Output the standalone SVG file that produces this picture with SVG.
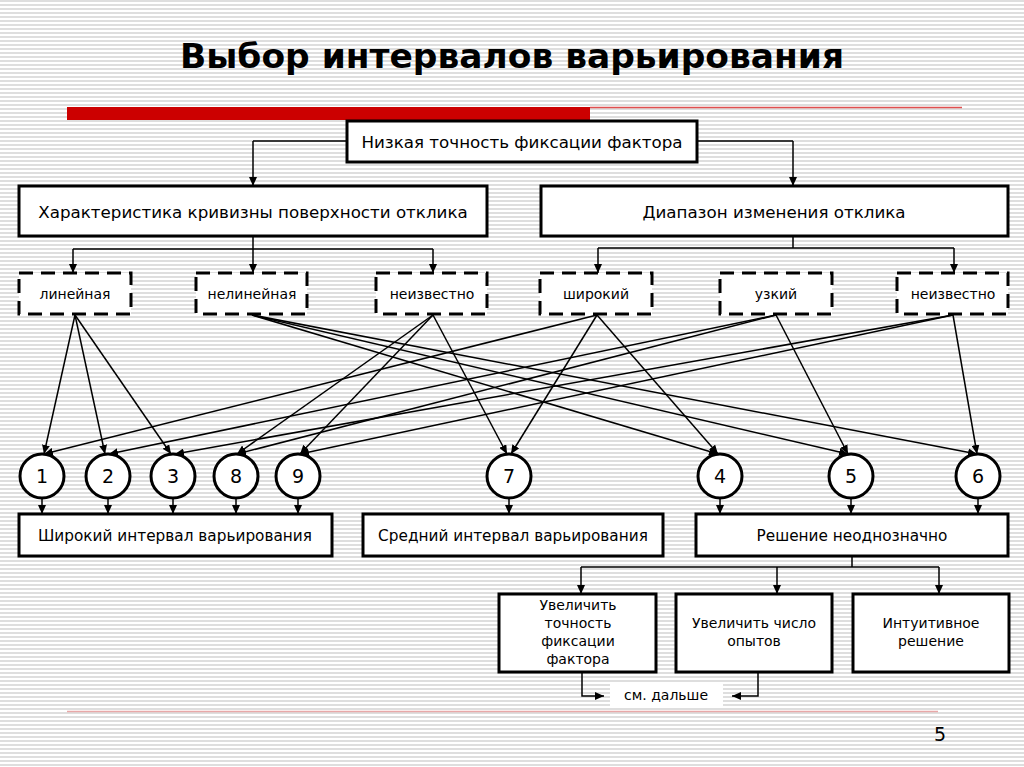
<svg xmlns="http://www.w3.org/2000/svg" width="1024" height="767" viewBox="0 0 1024 767">
<defs>
<pattern id="bg" width="8" height="4" patternUnits="userSpaceOnUse"><rect width="8" height="4" fill="#ffffff"/><rect width="8" height="2" fill="#dedede"/></pattern>
<marker id="ah" markerUnits="userSpaceOnUse" markerWidth="9" markerHeight="8" refX="9" refY="4" orient="auto"><path d="M0,0 L9,4 L0,8 z" fill="#000"/></marker>
<style>
.box{fill:#fff;stroke:#000;stroke-width:3}
.dbox{fill:#fff;stroke:#000;stroke-width:3;stroke-dasharray:14 8}
.circ{fill:#fff;stroke:#000;stroke-width:3}
.t{font-family:"DejaVu Sans","Liberation Sans",sans-serif;fill:#000;text-anchor:middle}
.big{font-size:16.7px}
.mid{font-size:15.3px}
.sm{font-size:14px}
.num{font-size:19px}
.ln{fill:none;stroke:#000;stroke-width:1.5}
.ar{fill:none;stroke:#000;stroke-width:1.5;marker-end:url(#ah)}
</style>
</defs>
<rect width="1024" height="767" fill="url(#bg)"/>
<text x="512" y="68" class="t" style="font-size:34px;font-weight:bold" textLength="664" lengthAdjust="spacingAndGlyphs">Выбор интервалов варьирования</text>
<rect x="67" y="107" width="523" height="13" fill="#cc0000"/>
<line x1="590" y1="107.5" x2="962" y2="107.5" stroke="#e05050" stroke-width="1.5"/>
<line x1="67" y1="711.5" x2="938" y2="711.5" stroke="#e8a8a8" stroke-width="1.5"/>
<text x="940" y="741" class="t" style="font-size:19px">5</text>

<g id="connectors">
<path class="ln" d="M347,141 H253"/><path class="ar" d="M253,141 V186"/>
<path class="ln" d="M697,141 H793"/><path class="ar" d="M793,141 V186"/>
<path class="ln" d="M253,236 V249 M73,249 H433"/>
<path class="ar" d="M73,249 V273"/><path class="ar" d="M253,249 V273"/><path class="ar" d="M433,249 V273"/>
<path class="ln" d="M793,236 V248 M598,248 H954"/>
<path class="ar" d="M598,248 V273"/><path class="ar" d="M954,248 V273"/>
<line class="ar" x1="75" y1="315" x2="44" y2="454"/>
<line class="ar" x1="75" y1="315" x2="105" y2="454"/>
<line class="ar" x1="75" y1="315" x2="171" y2="454"/>
<line class="ar" x1="252" y1="315" x2="718" y2="454"/>
<line class="ar" x1="252" y1="315" x2="848" y2="454"/>
<line class="ar" x1="252" y1="315" x2="977" y2="454"/>
<line class="ar" x1="433" y1="315" x2="237" y2="454"/>
<line class="ar" x1="433" y1="315" x2="300" y2="454"/>
<line class="ar" x1="433" y1="315" x2="507" y2="454"/>
<line class="ar" x1="597" y1="315" x2="44" y2="454"/>
<line class="ar" x1="597" y1="315" x2="511" y2="454"/>
<line class="ar" x1="597" y1="315" x2="718" y2="454"/>
<line class="ar" x1="776" y1="315" x2="109" y2="454"/>
<line class="ar" x1="776" y1="315" x2="237" y2="454"/>
<line class="ar" x1="776" y1="315" x2="848" y2="454"/>
<line class="ar" x1="953" y1="315" x2="175" y2="454"/>
<line class="ar" x1="953" y1="315" x2="300" y2="454"/>
<line class="ar" x1="953" y1="315" x2="977" y2="454"/>
<path class="ar" d="M42,499 V514"/><path class="ar" d="M108,499 V514"/><path class="ar" d="M173,499 V514"/>
<path class="ar" d="M236,499 V514"/><path class="ar" d="M298,499 V514"/><path class="ar" d="M509,499 V514"/>
<path class="ar" d="M720,499 V514"/><path class="ar" d="M851,499 V514"/><path class="ar" d="M978,499 V514"/>
<path class="ln" d="M852,556 V567 M581,567 H939"/>
<path class="ar" d="M581,567 V594"/><path class="ar" d="M777,567 V594"/><path class="ar" d="M939,567 V594"/>
<path class="ar" d="M582,672 V696 H604"/>
<path class="ar" d="M758,672 V696 H732"/>
</g>

<g id="n-top"><rect class="box" x="347" y="121" width="350" height="41"/><text class="t big" x="522" y="148">Низкая точность фиксации фактора</text></g>
<g id="n-curv"><rect class="box" x="19" y="186" width="468" height="50"/><text class="t big" x="253" y="218">Характеристика кривизны поверхности отклика</text></g>
<g id="n-range"><rect class="box" x="541" y="186" width="467" height="50"/><text class="t big" x="774" y="218">Диапазон изменения отклика</text></g>

<g id="n-lin"><rect class="dbox" x="19" y="273" width="112" height="41"/><text class="t sm" x="75" y="299">линейная</text></g>
<g id="n-nonlin"><rect class="dbox" x="196" y="273" width="111" height="41"/><text class="t sm" x="252" y="299">нелинейная</text></g>
<g id="n-unk1"><rect class="dbox" x="376" y="273" width="111" height="41"/><text class="t sm" x="432" y="299">неизвестно</text></g>
<g id="n-wide"><rect class="dbox" x="540" y="273" width="112" height="41"/><text class="t sm" x="596" y="299">широкий</text></g>
<g id="n-narrow"><rect class="dbox" x="720" y="273" width="112" height="41"/><text class="t sm" x="776" y="299">узкий</text></g>
<g id="n-unk2"><rect class="dbox" x="897" y="273" width="111" height="41"/><text class="t sm" x="953" y="299">неизвестно</text></g>

<g id="c1"><circle class="circ" cx="42" cy="476" r="22"/><text class="t num" x="42" y="483">1</text></g>
<g id="c2"><circle class="circ" cx="108" cy="476" r="22"/><text class="t num" x="108" y="483">2</text></g>
<g id="c3"><circle class="circ" cx="173" cy="476" r="22"/><text class="t num" x="173" y="483">3</text></g>
<g id="c8"><circle class="circ" cx="236" cy="476" r="22"/><text class="t num" x="236" y="483">8</text></g>
<g id="c9"><circle class="circ" cx="298" cy="476" r="22"/><text class="t num" x="298" y="483">9</text></g>
<g id="c7"><circle class="circ" cx="509" cy="476" r="22"/><text class="t num" x="509" y="483">7</text></g>
<g id="c4"><circle class="circ" cx="720" cy="476" r="22"/><text class="t num" x="720" y="483">4</text></g>
<g id="c5"><circle class="circ" cx="851" cy="476" r="22"/><text class="t num" x="851" y="483">5</text></g>
<g id="c6"><circle class="circ" cx="978" cy="476" r="22"/><text class="t num" x="978" y="483">6</text></g>

<g id="n-wideint"><rect class="box" x="19" y="514" width="313" height="42"/><text class="t mid" x="175" y="541">Широкий интервал варьирования</text></g>
<g id="n-midint"><rect class="box" x="363" y="514" width="300" height="42"/><text class="t mid" x="513" y="541">Средний интервал варьирования</text></g>
<g id="n-ambig"><rect class="box" x="696" y="514" width="312" height="42"/><text class="t mid" x="852" y="541">Решение неоднозначно</text></g>

<g id="n-acc"><rect class="box" x="499" y="594" width="157" height="78"/><text class="t sm" x="578" y="610">Увеличить</text><text class="t sm" x="578" y="628">точность</text><text class="t sm" x="578" y="646">фиксации</text><text class="t sm" x="578" y="664">фактора</text></g>
<g id="n-exp"><rect class="box" x="676" y="594" width="156" height="78"/><text class="t sm" x="754" y="628">Увеличить число</text><text class="t sm" x="754" y="646">опытов</text></g>
<g id="n-int"><rect class="box" x="853" y="594" width="156" height="78"/><text class="t sm" x="931" y="628">Интуитивное</text><text class="t sm" x="931" y="646">решение</text></g>

<g id="n-more"><rect x="610" y="683" width="113" height="25" fill="#fff"/><text class="t sm" x="666" y="700">см. дальше</text></g>
</svg>
